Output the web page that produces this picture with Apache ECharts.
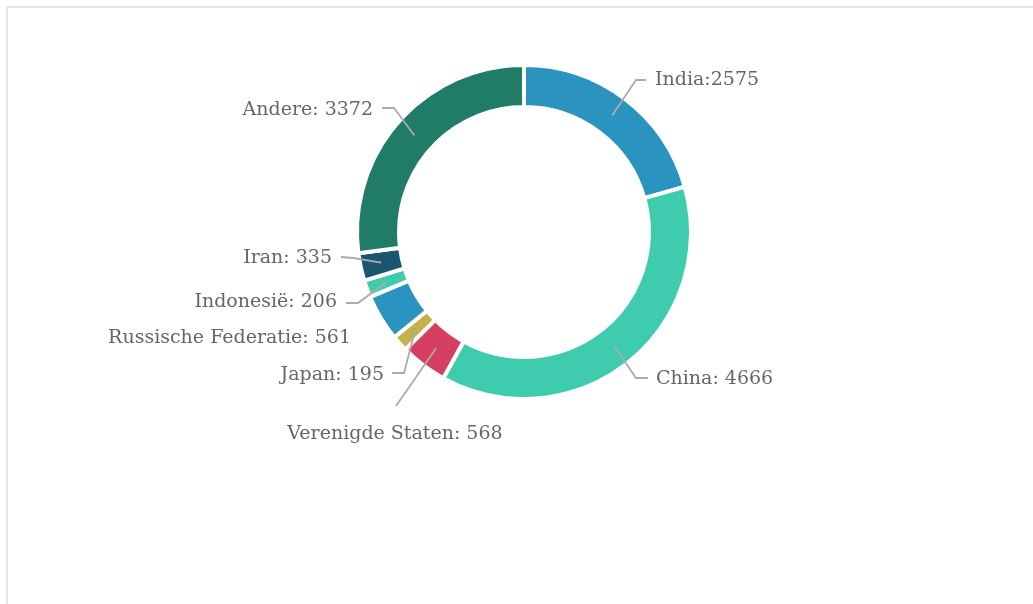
<!DOCTYPE html>
<html>
<head>
<meta charset="utf-8">
<script src="https://cdn.jsdelivr.net/npm/echarts@6/dist/echarts.min.js"></script>
<style>
  html, body { margin: 0; padding: 0; background: #fff; }
  #chart { width: 1033px; height: 604px; }
</style>
</head>
<body>
<div id="chart"></div>
<script>
// landen, in volgorde met de klok mee vanaf boven
const categories = ['India', 'China', 'Verenigde Staten', 'Japan', 'Russische Federatie', 'Indonesië', 'Iran', 'Andere'];
const values = [2575, 4666, 568, 195, 561, 206, 335, 3372];
const separators = [':', ': ', ': ', ': ', ': ', ': ', ': ', ': '];
const colors = ['#2b93bf', '#3fcbad', '#d53f60', '#c3b24a', '#2b93bf', '#3fcbad', '#1b5670', '#217c67'];

// where each label sits (line elbow, line end, text anchor)
const labelSpots = [
  { elbow: [636, 80], end: [646, 80], x: 655, y: 80, align: 'left' },
  { elbow: [636, 378], end: [648, 378], x: 656, y: 379, align: 'left' },
  { elbow: null, end: [396, 406], x: 395, y: 434, align: 'center' },
  { elbow: [404, 373], end: [392, 373], x: 384, y: 375, align: 'right' },
  { elbow: null, end: null, x: 351, y: 338, align: 'right' },
  { elbow: [358, 303], end: [346, 303], x: 337, y: 302, align: 'right' },
  { elbow: [353, 258], end: [341, 257], x: 332, y: 258, align: 'right' },
  { elbow: [394, 108], end: [382, 108], x: 373, y: 110, align: 'right' }
];

const chart = echarts.init(document.getElementById('chart'));

const ringData = categories.map((name, i) => ({
  name: name,
  value: values[i],
  itemStyle: { color: colors[i] }
}));

const labelData = categories.map((name, i) => ({
  name: name,
  value: values[i],
  labelLine: { show: labelSpots[i].end !== null }
}));

chart.setOption({
  backgroundColor: '#fff',
  animation: false,
  graphic: [{
    type: 'rect',
    shape: { x: 7, y: 7, width: 1100, height: 700 },
    style: { fill: 'none', stroke: '#e4e4e4', lineWidth: 2 },
    silent: true
  }],
  series: [
    {
      type: 'pie',
      center: [524, 232],
      radius: [125, 167],
      startAngle: 90,
      clockwise: true,
      silent: true,
      label: { show: false },
      labelLine: { show: false },
      itemStyle: { borderColor: '#fff', borderWidth: 4 },
      data: ringData
    },
    {
      // invisible pie only for labels, its lines start in the middle of the ring
      type: 'pie',
      center: [524, 232],
      radius: [0, 146],
      startAngle: 90,
      clockwise: true,
      silent: true,
      z: 3,
      itemStyle: { color: 'rgba(0,0,0,0)' },
      label: {
        show: true,
        fontFamily: 'DejaVu Serif',
        fontSize: 19,
        color: '#666',
        formatter: p => p.name + separators[p.dataIndex] + p.value
      },
      labelLine: {
        show: true,
        length: 30,
        length2: 10,
        lineStyle: { color: '#ababab', width: 1.8 }
      },
      labelLayout: function (params) {
        const s = labelSpots[params.dataIndex];
        const start = params.labelLinePoints ? params.labelLinePoints[0] : null;
        const out = { x: s.x, y: s.y, align: s.align, verticalAlign: 'middle' };
        if (start && s.end) {
          out.labelLinePoints = s.elbow ? [start, s.elbow, s.end] : [start, s.end, s.end];
        }
        return out;
      },
      data: labelData
    }
  ]
});
</script>
</body>
</html>
